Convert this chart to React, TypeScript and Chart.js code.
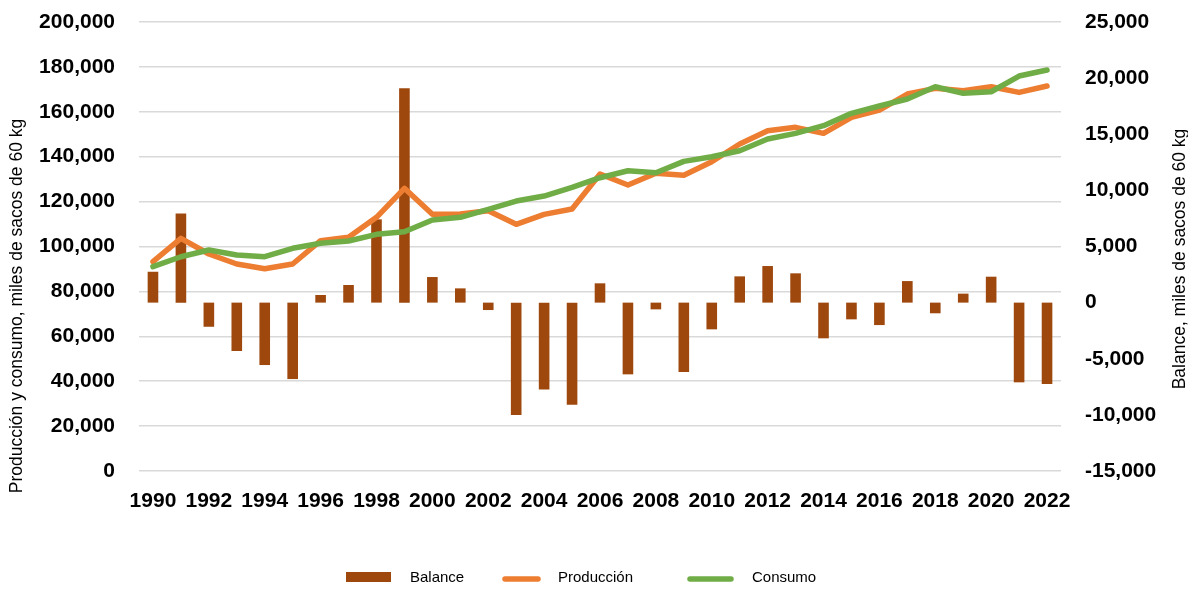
import React, { useEffect, useRef } from 'react';
import { Chart, registerables } from 'chart.js';

Chart.register(...registerables);

const years = [
  '1990', '1991', '1992', '1993', '1994', '1995', '1996', '1997', '1998', '1999',
  '2000', '2001', '2002', '2003', '2004', '2005', '2006', '2007', '2008', '2009',
  '2010', '2011', '2012', '2013', '2014', '2015', '2016', '2017', '2018', '2019',
  '2020', '2021', '2022',
];

const balance = [
  2750, 7950, -2150, -4310, -5560, -6810, 680, 1570, 7420, 19090,
  2280, 1270, -660, -10010, -7730, -9090, 1720, -6390, -600, -6180,
  -2380, 2340, 3260, 2610, -3180, -1490, -2000, 1920, -950, 800,
  2310, -7100, -7250,
];

const produccion = [
  93220, 103640, 96650, 92200, 90110, 92200, 102580, 104090, 113000, 125910,
  114330, 114500, 115940, 109880, 114330, 116690, 132280, 127380, 132590, 131700,
  137770, 145650, 151580, 153080, 150410, 157530, 160790, 167920, 170440, 169400,
  171170, 168650, 171480,
];

const consumo = [
  91000, 95450, 98430, 96200, 95450, 99190, 101420, 102440, 105420, 106590,
  111800, 113000, 116560, 120260, 122490, 126350, 130640, 133760, 132870, 137930,
  140000, 142670, 147870, 150410, 153800, 159320, 162570, 165690, 171170, 168230,
  168940, 175930, 178610,
];

const seriesNames = ['Balance', 'Producción', 'Consumo'];
const leftTitle = 'Producción y consumo, miles de sacos de 60 kg';
const rightTitle = 'Balance, miles de sacos de 60 kg';

const COLOR_BAR = '#9E480E';
const COLOR_PROD = '#ED7D31';
const COLOR_CONS = '#70AD47';
const FONT = "'Liberation Sans', Arial, sans-serif";

const fmt = (v: number) => Number(v).toLocaleString('en-US');

const decorPlugin = {
  id: 'decor',
  afterDraw(chart: any) {
    const ctx = chart.ctx as CanvasRenderingContext2D;
    const area = chart.chartArea;
    ctx.save();
    // axis titles
    ctx.fillStyle = '#000';
    ctx.font = `17.5px ${FONT}`;
    ctx.textAlign = 'center';
    ctx.textBaseline = 'middle';
    ctx.save();
    ctx.translate(9, area.bottom - 165);
    ctx.rotate(-Math.PI / 2);
    ctx.fillText(leftTitle, 0, 0);
    ctx.restore();
    ctx.save();
    ctx.translate(chart.width - 8, area.top + 237);
    ctx.rotate(-Math.PI / 2);
    ctx.fillText(rightTitle, 0, 0);
    ctx.restore();

    // legend
    const ly = 571;
    ctx.font = `15px ${FONT}`;
    ctx.textAlign = 'left';
    ctx.textBaseline = 'middle';
    ctx.fillStyle = COLOR_BAR;
    ctx.fillRect(338, ly - 7, 45, 14);
    ctx.fillStyle = '#000';
    ctx.fillText(seriesNames[0], 402, ly - 1);
    ctx.lineCap = 'round';
    ctx.lineWidth = 5.5;
    ctx.strokeStyle = COLOR_PROD;
    ctx.beginPath();
    ctx.moveTo(497, ly);
    ctx.lineTo(530, ly);
    ctx.stroke();
    ctx.fillText(seriesNames[1], 550, ly - 1);
    ctx.strokeStyle = COLOR_CONS;
    ctx.beginPath();
    ctx.moveTo(682, ly);
    ctx.lineTo(723, ly);
    ctx.stroke();
    ctx.fillText(seriesNames[2], 744, ly - 1);
    ctx.restore();
  },
};

export default function App() {
  const canvasRef = useRef<HTMLCanvasElement | null>(null);

  useEffect(() => {
    if (!canvasRef.current) return;
    Chart.defaults.font.family = FONT;
    const tickFont = { family: FONT, size: 21, weight: 'bold' as const };
    const chart = new Chart(canvasRef.current, {
      data: {
        labels: years,
        datasets: [
          {
            type: 'line',
            label: seriesNames[2],
            data: consumo,
            yAxisID: 'y',
            borderColor: COLOR_CONS,
            backgroundColor: COLOR_CONS,
            borderWidth: 5.5,
            pointRadius: 0,
            borderCapStyle: 'round',
            borderJoinStyle: 'round',
            tension: 0,
            order: 1,
          },
          {
            type: 'line',
            label: seriesNames[1],
            data: produccion,
            yAxisID: 'y',
            borderColor: COLOR_PROD,
            backgroundColor: COLOR_PROD,
            borderWidth: 5.5,
            pointRadius: 0,
            borderCapStyle: 'round',
            borderJoinStyle: 'round',
            tension: 0,
            order: 2,
          },
          {
            type: 'bar',
            label: seriesNames[0],
            data: balance,
            yAxisID: 'y1',
            backgroundColor: COLOR_BAR,
            borderWidth: 0,
            barPercentage: 0.38,
            categoryPercentage: 1,
            order: 3,
          },
        ],
      } as any,
      options: {
        animation: false,
        responsive: true,
        maintainAspectRatio: false,
        layout: { padding: { top: 14, left: 0, right: 0, bottom: 0 } },
        plugins: {
          legend: { display: false },
          tooltip: { enabled: false },
          title: { display: false },
        },
        scales: {
          x: {
            type: 'category',
            grid: { display: false, drawTicks: false },
            border: { display: false },
            ticks: {
              autoSkip: false,
              maxRotation: 0,
              minRotation: 0,
              padding: 18,
              color: '#000',
              font: tickFont,
              callback: (_v: any, i: number) => (i % 2 === 0 ? years[i] : ''),
            },
            afterFit: (s: any) => {
              s.height = 111;
              s.paddingLeft = 0;
              s.paddingRight = 0;
            },
          },
          y: {
            type: 'linear',
            position: 'left',
            min: 0,
            max: 200000,
            grid: { color: '#D9D9D9', lineWidth: 1.5, drawTicks: false },
            border: { display: false },
            ticks: {
              stepSize: 20000,
              padding: 24,
              color: '#000',
              font: tickFont,
              callback: (v: any) => fmt(v),
            },
            afterFit: (s: any) => {
              s.width = 131;
              s.paddingTop = 0;
              s.paddingBottom = 0;
            },
          },
          y1: {
            type: 'linear',
            position: 'right',
            min: -15000,
            max: 25000,
            grid: { display: false, drawTicks: false },
            border: { display: false },
            ticks: {
              stepSize: 5000,
              padding: 24,
              color: '#000',
              font: tickFont,
              callback: (v: any) => fmt(v),
            },
            afterFit: (s: any) => {
              s.width = 127;
              s.paddingTop = 0;
              s.paddingBottom = 0;
            },
          },
        },
      } as any,
      plugins: [decorPlugin],
    });
    return () => chart.destroy();
  }, []);

  return (
    <div style={{ position: 'relative', width: 1180, height: 574 }}>
      <canvas ref={canvasRef} />
    </div>
  );
}
